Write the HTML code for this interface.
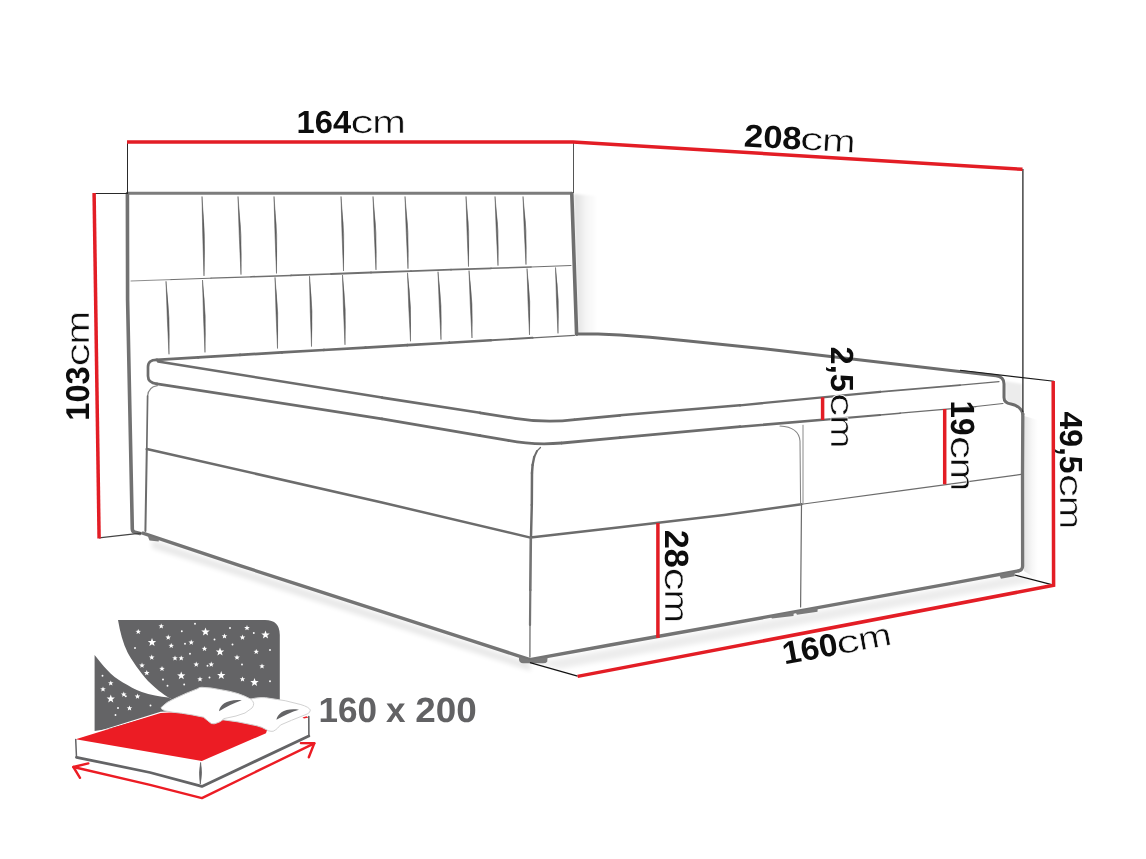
<!DOCTYPE html>
<html><head><meta charset="utf-8"><title>Bed dimensions</title>
<style>
html,body{margin:0;padding:0;background:#fff;}
body{width:1146px;height:859px;overflow:hidden;font-family:"Liberation Sans",sans-serif;}
svg{display:block;position:absolute;left:0;top:0;}
</style></head><body>
<svg width="1146" height="859" viewBox="0 0 1146 859">
<defs>
<linearGradient id="shR" x1="0" y1="0" x2="1" y2="0"><stop offset="0" stop-color="#000" stop-opacity="0.13"/><stop offset="0.5" stop-color="#000" stop-opacity="0.04"/><stop offset="1" stop-color="#000" stop-opacity="0"/></linearGradient>
<linearGradient id="shR2" x1="0" y1="0" x2="1" y2="0"><stop offset="0" stop-color="#000" stop-opacity="0.11"/><stop offset="0.6" stop-color="#000" stop-opacity="0.03"/><stop offset="1" stop-color="#000" stop-opacity="0"/></linearGradient>
<filter id="blur2" x="-10%" y="-50%" width="120%" height="200%"><feGaussianBlur stdDeviation="2.5"/></filter>
<filter id="blur1"><feGaussianBlur stdDeviation="1.2"/></filter>
</defs>
<polygon points="574,194 596,196 598,335 578,333" fill="url(#shR)" filter="url(#blur1)"/>
<path d="M152,540 L530,663 L531,671 L152,548 Z" fill="#000" opacity="0.09" filter="url(#blur2)"/>
<path d="M533,663 L1016,575 L1034,580 L1034,582 L560,669 Z" fill="#000" opacity="0.07" filter="url(#blur2)"/>
<polygon points="1024,416 1038,420 1038,580 1024,571" fill="url(#shR2)"/>
<path d="M1005,381 L1022,384 L1022,410 Q1016,405 1006,402 Z" fill="#000" opacity="0.07" filter="url(#blur1)"/>
<g fill="none" stroke-linecap="round" stroke-linejoin="round">
<path d="M128,193.2 L571.5,193.2" stroke="#7c7c7c" stroke-width="3"/>
<path d="M127.4,193.5 L127.6,300 L132.3,529 Q132.4,531.8 135,532.3 L140,533.4" stroke="#727272" stroke-width="3.6"/>
<path d="M571.8,193.5 L576.6,334.3" stroke="#6e6e6e" stroke-width="3.6"/>
</g>
<path d="M131.0,281.0 L171.0,279.6" stroke="#707070" stroke-width="0.80" fill="none" stroke-linecap="round"/>
<path d="M171.0,279.6 L211.0,278.2" stroke="#707070" stroke-width="1.00" fill="none" stroke-linecap="round"/>
<path d="M211.0,278.2 L251.0,276.8" stroke="#707070" stroke-width="1.25" fill="none" stroke-linecap="round"/>
<path d="M251.0,276.8 L291.0,275.4" stroke="#707070" stroke-width="1.55" fill="none" stroke-linecap="round"/>
<path d="M291.0,275.4 L331.0,274.0" stroke="#707070" stroke-width="1.75" fill="none" stroke-linecap="round"/>
<path d="M331.0,274.0 L371.0,272.5" stroke="#707070" stroke-width="1.80" fill="none" stroke-linecap="round"/>
<path d="M371.0,272.5 L411.0,271.1" stroke="#707070" stroke-width="1.80" fill="none" stroke-linecap="round"/>
<path d="M411.0,271.1 L451.0,269.7" stroke="#707070" stroke-width="1.80" fill="none" stroke-linecap="round"/>
<path d="M451.0,269.7 L491.0,268.3" stroke="#707070" stroke-width="1.75" fill="none" stroke-linecap="round"/>
<path d="M491.0,268.3 L531.0,266.9" stroke="#707070" stroke-width="1.50" fill="none" stroke-linecap="round"/>
<path d="M531.0,266.9 L571.0,265.5" stroke="#707070" stroke-width="1.05" fill="none" stroke-linecap="round"/>
<g fill="#5e5e5e" stroke="#5e5e5e" stroke-width="0.55" stroke-linejoin="round">
<path d="M202,196.5 Q205.9,236.2 204,275.9 Q202.5,236.2 202,196.5 Z"/>
<path d="M238,196.5 Q242.4,235.6 241,274.6 Q239.0,235.6 238,196.5 Z"/>
<path d="M274,196.5 Q278.1,234.9 276.5,273.4 Q274.8,234.9 274,196.5 Z"/>
<path d="M341,196.5 Q345.1,233.8 343.5,271.0 Q341.8,233.8 341,196.5 Z"/>
<path d="M373,196.5 Q377.4,233.2 376,269.9 Q374.0,233.2 373,196.5 Z"/>
<path d="M405,196.5 Q409.4,232.6 408,268.7 Q406.0,232.6 405,196.5 Z"/>
<path d="M466,196.5 Q470.1,231.6 468.5,266.6 Q466.8,231.6 466,196.5 Z"/>
<path d="M495,196.5 Q499.4,231.0 498,265.6 Q496.0,231.0 495,196.5 Z"/>
<path d="M523,196.5 Q527.4,230.5 526,264.6 Q524.0,230.5 523,196.5 Z"/>
<path d="M166,281.3 Q170.4,317.8 169,354.3 Q167.0,317.8 166,281.3 Z"/>
<path d="M202.5,280.0 Q206.6,316.2 205,352.4 Q203.2,316.2 202.5,280.0 Z"/>
<path d="M275,277.4 Q279.1,312.9 277.5,348.5 Q275.8,312.9 275,277.4 Z"/>
<path d="M309.5,276.2 Q313.4,311.4 311.5,346.6 Q310.0,311.4 309.5,276.2 Z"/>
<path d="M342.5,275.0 Q346.6,309.9 345,344.8 Q343.2,309.9 342.5,275.0 Z"/>
<path d="M407.5,272.8 Q411.9,307.0 410.5,341.3 Q408.5,307.0 407.5,272.8 Z"/>
<path d="M438,271.7 Q442.4,305.7 441,339.7 Q439.0,305.7 438,271.7 Z"/>
<path d="M469,270.6 Q473.4,304.3 472,338.0 Q470.0,304.3 469,270.6 Z"/>
<path d="M527,268.6 Q531.2,301.7 529.5,334.9 Q527.8,301.7 527,268.6 Z"/>
<path d="M555.5,267.5 Q559.7,300.5 558,333.4 Q556.2,300.5 555.5,267.5 Z"/>
</g>
<g fill="none" stroke="#6c6c6c" stroke-width="3" stroke-linecap="round" stroke-linejoin="round">
<path d="M576.6,333.9 L598,334.1 L620,334.9 L650,337.3 L686,340.8 L764,348.8 L880,362.2 L996,375.8 Q1004,376.8 1004,384 L1004,397.5 Q1004,403 1011,404 Q1021,406 1022.8,414"/>
<path d="M1022.8,414 L1022.5,474.5 L1022.6,566 Q1022.6,570 1018.5,570.9" stroke="#747474" stroke-width="3.3"/>
<path d="M157,359.8 Q148,359.5 148,367 L148,376 Q148,383 157,383.8" stroke-width="2.7"/>
</g>
<path d="M156.5,359.8 L198.3,357.4" stroke="#6c6c6c" stroke-width="2.80" fill="none" stroke-linecap="round"/>
<path d="M198.3,357.4 L240.1,354.9" stroke="#6c6c6c" stroke-width="2.80" fill="none" stroke-linecap="round"/>
<path d="M240.1,354.9 L281.9,352.4" stroke="#6c6c6c" stroke-width="2.80" fill="none" stroke-linecap="round"/>
<path d="M281.9,352.4 L323.7,350.0" stroke="#6c6c6c" stroke-width="2.75" fill="none" stroke-linecap="round"/>
<path d="M323.7,350.0 L365.5,347.6" stroke="#6c6c6c" stroke-width="2.70" fill="none" stroke-linecap="round"/>
<path d="M365.5,347.6 L407.3,345.1" stroke="#6c6c6c" stroke-width="2.70" fill="none" stroke-linecap="round"/>
<path d="M407.3,345.1 L449.1,342.7" stroke="#6c6c6c" stroke-width="2.65" fill="none" stroke-linecap="round"/>
<path d="M449.1,342.7 L490.9,340.2" stroke="#6c6c6c" stroke-width="2.45" fill="none" stroke-linecap="round"/>
<path d="M490.9,340.2 L532.7,337.8" stroke="#6c6c6c" stroke-width="1.95" fill="none" stroke-linecap="round"/>
<path d="M532.7,337.8 L574.5,335.3" stroke="#6c6c6c" stroke-width="1.30" fill="none" stroke-linecap="round"/>
<path d="M158.0,361.5 L382.0,397.6" stroke="#6c6c6c" stroke-width="2.50" fill="none" stroke-linecap="round"/>
<path d="M382.0,397.6 L480.0,412.8" stroke="#6c6c6c" stroke-width="2.65" fill="none" stroke-linecap="round"/>
<path d="M480.0,412.8 L515.0,418.3" stroke="#6c6c6c" stroke-width="2.70" fill="none" stroke-linecap="round"/>
<path d="M515,418.3 Q545,423.2 575,419.6" stroke="#6c6c6c" stroke-width="2.7" fill="none"/>
<path d="M575.0,419.6 L620.0,415.3" stroke="#6c6c6c" stroke-width="2.70" fill="none" stroke-linecap="round"/>
<path d="M620.0,415.3 L740.0,405.3" stroke="#6c6c6c" stroke-width="2.60" fill="none" stroke-linecap="round"/>
<path d="M740.0,405.3 L880.0,391.8" stroke="#6c6c6c" stroke-width="2.35" fill="none" stroke-linecap="round"/>
<path d="M880.0,391.8 L960.0,385.2" stroke="#6c6c6c" stroke-width="1.85" fill="none" stroke-linecap="round"/>
<path d="M960.0,385.2 L999.0,381.6" stroke="#6c6c6c" stroke-width="1.20" fill="none" stroke-linecap="round"/>
<path d="M157.0,383.8 L382.0,418.8" stroke="#6c6c6c" stroke-width="2.75" fill="none" stroke-linecap="round"/>
<path d="M382.0,418.8 L480.0,435.7" stroke="#6c6c6c" stroke-width="2.80" fill="none" stroke-linecap="round"/>
<path d="M480.0,435.7 L508.0,440.4" stroke="#6c6c6c" stroke-width="2.80" fill="none" stroke-linecap="round"/>
<path d="M508,440.4 Q534,445.4 562,443" stroke="#6c6c6c" stroke-width="2.8" fill="none"/>
<path d="M562.0,443.0 L620.0,437.7" stroke="#6c6c6c" stroke-width="2.80" fill="none" stroke-linecap="round"/>
<path d="M620.0,437.7 L740.0,426.7" stroke="#6c6c6c" stroke-width="2.70" fill="none" stroke-linecap="round"/>
<path d="M740.0,426.7 L823.0,419.8" stroke="#6c6c6c" stroke-width="2.50" fill="none" stroke-linecap="round"/>
<path d="M823.0,419.8 L880.0,415.0" stroke="#6c6c6c" stroke-width="2.20" fill="none" stroke-linecap="round"/>
<path d="M880.0,415.0 L900.0,413.2" stroke="#6c6c6c" stroke-width="1.65" fill="none" stroke-linecap="round"/>
<path d="M900.0,413.2 L976.0,406.6" stroke="#6c6c6c" stroke-width="1.20" fill="none" stroke-linecap="round"/>
<path d="M976.0,406.6 L1003.0,403.6" stroke="#6c6c6c" stroke-width="1.05" fill="none" stroke-linecap="round"/>
<g fill="none" stroke="#6c6c6c" stroke-linecap="round" stroke-linejoin="round">
<path d="M157.4,385.6 Q148.2,387 147.6,396" stroke-width="1.2" stroke="#888"/>
<path d="M147.6,396 L146.8,449" stroke-width="1.7"/>
<path d="M146.8,449 L382,502.5 L530.5,537.6 L620,527.2 L724,515 L801.5,504.2" stroke-width="2.5"/>
<path d="M801.5,504.2 L900,490.9 L1021,474.4" stroke-width="1.15"/>
<path d="M146.8,449 L145.4,531" stroke-width="2"/>
</g>
<g fill="none" stroke="#747474" stroke-width="3.4" stroke-linecap="round" stroke-linejoin="round">
<path d="M142.8,533.2 L240,565.6 L300,585.2 L470,640.1 L530,659.6"/>
<path d="M530,659.6 L610,645 L764,617.4 L950,583.6 L1018.5,570.9"/>
</g>
<path d="M540.5,447.5 L537.0,451.0" stroke="#6c6c6c" stroke-width="1.20" fill="none" stroke-linecap="round"/>
<path d="M537.0,451.0 L534.2,457.0" stroke="#6c6c6c" stroke-width="1.90" fill="none" stroke-linecap="round"/>
<path d="M534.2,457.0 L532.6,465.0" stroke="#6c6c6c" stroke-width="2.35" fill="none" stroke-linecap="round"/>
<path d="M532.6,465.0 L532.0,473.0" stroke="#6c6c6c" stroke-width="2.50" fill="none" stroke-linecap="round"/>
<path d="M532.0,473.0 L531.8,505.0" stroke="#6c6c6c" stroke-width="2.50" fill="none" stroke-linecap="round"/>
<path d="M531.8,505.0 L531.0,537.0" stroke="#6c6c6c" stroke-width="2.45" fill="none" stroke-linecap="round"/>
<path d="M530.8,538.0 L530.3,590.0" stroke="#747474" stroke-width="2.60" fill="none" stroke-linecap="round"/>
<path d="M530.3,590.0 L530.0,625.0" stroke="#747474" stroke-width="2.20" fill="none" stroke-linecap="round"/>
<path d="M530.0,625.0 L529.9,657.0" stroke="#747474" stroke-width="1.35" fill="none" stroke-linecap="round"/>
<g fill="none" stroke-linecap="round" stroke-linejoin="round">
<path d="M803,425.2 L803,504" stroke="#8a8a8a" stroke-width="1"/>
<path d="M780,426 Q798.8,427 800,441 L800.6,504" stroke="#858585" stroke-width="1.05"/>
<path d="M801.5,504.5 L800.6,607" stroke="#6a6a6a" stroke-width="1.2"/>
</g>
<g fill="#7a7a7a">
<path d="M147.5,535.5 L159,539.3 L158.7,541.4 L149.5,540.4 Z"/>
<path d="M519,656.6 L530,660 L547.6,657 L547.2,661.8 Q546,663.3 543,663.3 L523,663.3 Q519.5,663 519,660 Z"/>
<path d="M770,616 L793.8,611.8 L793.5,616 L772,618.6 Z"/>
<path d="M795,611.5 L817.7,607.5 L817.5,611.8 L797,614.7 Z"/>
<path d="M999,574.6 L1014.8,571.6 L1014.6,576.3 L1001,578.7 Z"/>
</g>
<g fill="none" stroke="#2a2a2a" stroke-width="1">
<path d="M127.5,142 L127.5,193"/>
<path d="M93,193.5 L128,193.5"/>
<path d="M573.5,142 L573.5,193" stroke="#555"/>
<path d="M1022.9,169 L1022.9,412" stroke="#1f1f1f" stroke-width="1.25"/>
<path d="M960,370.3 L1054,381.3" stroke="#1a1a1a" stroke-width="1.1"/>
<path d="M99,537.8 L141,533.2" stroke="#444" stroke-width="1.3"/>
<path d="M530,662.7 L577.6,676.2" stroke="#111" stroke-width="1.2"/>
<path d="M1014.8,575 L1052.7,584.8" stroke="#111" stroke-width="1.2"/>
</g>
<g fill="none" stroke="#e31d25" stroke-width="3.5" stroke-linecap="butt" stroke-linejoin="miter">
<path d="M127,142 L573,142 L1022.5,169.3"/>
<path d="M94.1,193 L99.1,538.5"/>
<path d="M1053.2,381 L1053.6,585.3 L577.6,676.4"/>
<path d="M657.9,523 L657.9,638"/>
<path d="M944.7,409 L944.7,484.3"/>
<path d="M822.6,397.3 L822.6,420"/>
</g>
<g transform="translate(297.8,133.1) rotate(0)" fill="#0d0d0d" font-family="Liberation Sans, sans-serif" text-rendering="geometricPrecision" opacity="0.995"><text x="-1.2" y="0" font-size="32.0" font-weight="700" textLength="54.6" lengthAdjust="spacingAndGlyphs">164</text><g stroke="#fff" stroke-width="0.55" font-size="32.0"><text x="52.4" y="0" textLength="23.2" lengthAdjust="spacingAndGlyphs">c</text><text x="74.4" y="0" textLength="33.6" lengthAdjust="spacingAndGlyphs">m</text></g></g>
<g transform="translate(744.7,146.5) rotate(3.2)" fill="#0d0d0d" font-family="Liberation Sans, sans-serif" text-rendering="geometricPrecision" opacity="0.995"><text x="-1.2" y="0" font-size="32.0" font-weight="700" textLength="57.6" lengthAdjust="spacingAndGlyphs">208</text><g stroke="#fff" stroke-width="0.55" font-size="32.0"><text x="54.8" y="0" textLength="23.2" lengthAdjust="spacingAndGlyphs">c</text><text x="76.8" y="0" textLength="33.6" lengthAdjust="spacingAndGlyphs">m</text></g></g>
<g transform="translate(88.9,419.5) rotate(-90)" fill="#0d0d0d" font-family="Liberation Sans, sans-serif" text-rendering="geometricPrecision" opacity="0.995"><text x="-1.2" y="0" font-size="33.0" font-weight="700" textLength="54.3" lengthAdjust="spacingAndGlyphs">103</text><g stroke="#fff" stroke-width="0.55" font-size="33.0"><text x="53.1" y="0" textLength="23.2" lengthAdjust="spacingAndGlyphs">c</text><text x="75.1" y="0" textLength="33.6" lengthAdjust="spacingAndGlyphs">m</text></g></g>
<g transform="translate(830.7,347.8) rotate(90)" fill="#0d0d0d" font-family="Liberation Sans, sans-serif" text-rendering="geometricPrecision" opacity="0.995"><text x="-1.2" y="0" font-size="32.0" font-weight="700" textLength="45.4" lengthAdjust="spacingAndGlyphs">2,5</text><g stroke="#fff" stroke-width="0.55" font-size="32.0"><text x="45.1" y="0" textLength="23.2" lengthAdjust="spacingAndGlyphs">c</text><text x="67.1" y="0" textLength="33.6" lengthAdjust="spacingAndGlyphs">m</text></g></g>
<g transform="translate(951.3,401.6) rotate(90)" fill="#0d0d0d" font-family="Liberation Sans, sans-serif" text-rendering="geometricPrecision" opacity="0.995"><text x="-1.2" y="0" font-size="33.6" font-weight="700" textLength="35.0" lengthAdjust="spacingAndGlyphs">19</text><g stroke="#fff" stroke-width="0.55" font-size="33.6"><text x="34.1" y="0" textLength="23.2" lengthAdjust="spacingAndGlyphs">c</text><text x="56.1" y="0" textLength="33.6" lengthAdjust="spacingAndGlyphs">m</text></g></g>
<g transform="translate(664.6,530.9) rotate(90)" fill="#0d0d0d" font-family="Liberation Sans, sans-serif" text-rendering="geometricPrecision" opacity="0.995"><text x="-1.2" y="0" font-size="33.6" font-weight="700" textLength="38.0" lengthAdjust="spacingAndGlyphs">28</text><g stroke="#fff" stroke-width="0.55" font-size="33.6"><text x="36.5" y="0" textLength="23.2" lengthAdjust="spacingAndGlyphs">c</text><text x="58.5" y="0" textLength="33.6" lengthAdjust="spacingAndGlyphs">m</text></g></g>
<g transform="translate(1060.2,412.7) rotate(90)" fill="#0d0d0d" font-family="Liberation Sans, sans-serif" text-rendering="geometricPrecision" opacity="0.995"><text x="-1.2" y="0" font-size="32.0" font-weight="700" textLength="62.1" lengthAdjust="spacingAndGlyphs">49,5</text><g stroke="#fff" stroke-width="0.55" font-size="32.0"><text x="61.1" y="0" textLength="23.2" lengthAdjust="spacingAndGlyphs">c</text><text x="83.1" y="0" textLength="33.6" lengthAdjust="spacingAndGlyphs">m</text></g></g>
<g transform="translate(785.6,664.4) rotate(-10.5)" fill="#0d0d0d" font-family="Liberation Sans, sans-serif" text-rendering="geometricPrecision" opacity="0.995"><text x="-1.2" y="0" font-size="32.0" font-weight="700" textLength="55.6" lengthAdjust="spacingAndGlyphs">160</text><g stroke="#fff" stroke-width="0.55" font-size="32.0"><text x="53.6" y="0" textLength="23.2" lengthAdjust="spacingAndGlyphs">c</text><text x="75.6" y="0" textLength="33.6" lengthAdjust="spacingAndGlyphs">m</text></g></g>
<g fill="#626264" font-family="Liberation Sans, sans-serif" font-size="35" font-weight="700" opacity="0.995" text-rendering="geometricPrecision"><text x="318.4" y="722" textLength="58.5" lengthAdjust="spacingAndGlyphs">160</text><text x="386" y="722" textLength="19.5" lengthAdjust="spacingAndGlyphs">x</text><text x="415.3" y="722" textLength="61.5" lengthAdjust="spacingAndGlyphs">200</text></g>
<g>
<path d="M118,620 L265,620 Q279.8,620 279.8,635 L279.8,715 L200,715 L168.5,697.4 C164,695 154,687 148,680.9 C140,672.5 131,659 127.6,652.6 C123,643 120,632 118,620 Z" fill="#646466"/>
<path d="M94.6,654.9 C98,659 103,665.5 107.2,669.9 C112,675 117,679 122.9,682.5 C129,686 135,689.6 141.8,691.9 C150,694.6 160,696.6 168.5,697.4 L200,715 L94.6,731 Z" fill="#646466"/>
<g fill="#fff">
<polygon points="152.0,638.1 153.1,641.0 156.2,641.1 153.8,643.1 154.6,646.1 152.0,644.3 149.4,646.1 150.2,643.1 147.8,641.1 150.9,641.0"/>
<polygon points="205.5,627.6 206.6,630.5 209.7,630.6 207.3,632.6 208.1,635.6 205.5,633.8 202.9,635.6 203.7,632.6 201.3,630.6 204.4,630.5"/>
<polygon points="265.5,630.6 266.6,633.5 269.7,633.6 267.3,635.6 268.1,638.6 265.5,636.8 262.9,638.6 263.7,635.6 261.3,633.6 264.4,633.5"/>
<polygon points="220.0,647.6 221.1,650.5 224.2,650.6 221.8,652.6 222.6,655.6 220.0,653.8 217.4,655.6 218.2,652.6 215.8,650.6 218.9,650.5"/>
<polygon points="181.2,671.4 182.3,674.3 185.4,674.4 183.0,676.3 183.8,679.3 181.2,677.6 178.7,679.3 179.5,676.3 177.1,674.4 180.2,674.3"/>
<polygon points="221.2,671.1 222.3,674.0 225.4,674.1 223.0,676.1 223.8,679.1 221.2,677.3 218.7,679.1 219.5,676.1 217.1,674.1 220.2,674.0"/>
<polygon points="254.5,678.1 255.6,681.0 258.7,681.1 256.3,683.1 257.1,686.1 254.5,684.3 251.9,686.1 252.7,683.1 250.3,681.1 253.4,681.0"/>
<polygon points="110.8,694.6 111.8,697.5 114.9,697.6 112.5,699.6 113.3,702.6 110.8,700.8 108.2,702.6 109.0,699.6 106.6,697.6 109.7,697.5"/>
<polygon points="138.2,628.9 139.0,630.8 141.0,630.9 139.4,632.1 140.0,634.1 138.2,633.0 136.5,634.1 137.1,632.1 135.5,630.9 137.5,630.8"/>
<polygon points="161.2,623.4 162.0,625.3 164.0,625.4 162.4,626.6 163.0,628.6 161.2,627.5 159.5,628.6 160.1,626.6 158.5,625.4 160.5,625.3"/>
<polygon points="168.2,634.6 169.0,636.5 171.0,636.6 169.4,637.9 170.0,639.8 168.2,638.7 166.5,639.8 167.1,637.9 165.5,636.6 167.5,636.5"/>
<polygon points="247.0,625.1 247.7,627.0 249.8,627.1 248.2,628.4 248.7,630.3 247.0,629.2 245.3,630.3 245.8,628.4 244.2,627.1 246.3,627.0"/>
<polygon points="242.5,634.6 243.2,636.5 245.3,636.6 243.7,637.9 244.2,639.8 242.5,638.7 240.8,639.8 241.3,637.9 239.7,636.6 241.8,636.5"/>
<polygon points="224.5,633.4 225.2,635.3 227.3,635.4 225.7,636.6 226.2,638.6 224.5,637.5 222.8,638.6 223.3,636.6 221.7,635.4 223.8,635.3"/>
<polygon points="204.5,645.9 205.2,647.8 207.3,647.9 205.7,649.1 206.2,651.1 204.5,650.0 202.8,651.1 203.3,649.1 201.7,647.9 203.8,647.8"/>
<polygon points="191.2,639.6 192.0,641.5 194.0,641.6 192.4,642.9 193.0,644.8 191.2,643.7 189.5,644.8 190.1,642.9 188.5,641.6 190.5,641.5"/>
<polygon points="171.2,642.9 172.0,644.8 174.0,644.9 172.4,646.1 173.0,648.1 171.2,647.0 169.5,648.1 170.1,646.1 168.5,644.9 170.5,644.8"/>
<polygon points="256.2,648.9 257.0,650.8 259.0,650.9 257.4,652.1 258.0,654.1 256.2,653.0 254.5,654.1 255.1,652.1 253.5,650.9 255.5,650.8"/>
<polygon points="237.0,654.6 237.7,656.5 239.8,656.6 238.2,657.9 238.7,659.8 237.0,658.7 235.3,659.8 235.8,657.9 234.2,656.6 236.3,656.5"/>
<polygon points="262.0,663.4 262.7,665.3 264.8,665.4 263.2,666.6 263.7,668.6 262.0,667.5 260.3,668.6 260.8,666.6 259.2,665.4 261.3,665.3"/>
<polygon points="196.2,661.6 197.0,663.5 199.0,663.6 197.4,664.9 198.0,666.8 196.2,665.7 194.5,666.8 195.1,664.9 193.5,663.6 195.5,663.5"/>
<polygon points="211.2,661.6 212.0,663.5 214.0,663.6 212.4,664.9 213.0,666.8 211.2,665.7 209.5,666.8 210.1,664.9 208.5,663.6 210.5,663.5"/>
<polygon points="175.0,655.4 175.7,657.3 177.8,657.4 176.2,658.6 176.7,660.6 175.0,659.5 173.3,660.6 173.8,658.6 172.2,657.4 174.3,657.3"/>
<polygon points="181.2,655.4 182.0,657.3 184.0,657.4 182.4,658.6 183.0,660.6 181.2,659.5 179.5,660.6 180.1,658.6 178.5,657.4 180.5,657.3"/>
<polygon points="151.8,654.6 152.5,656.5 154.5,656.6 152.9,657.9 153.5,659.8 151.8,658.7 150.0,659.8 150.6,657.9 149.0,656.6 151.0,656.5"/>
<polygon points="142.0,662.6 142.7,664.5 144.8,664.6 143.2,665.9 143.7,667.8 142.0,666.7 140.3,667.8 140.8,665.9 139.2,664.6 141.3,664.5"/>
<polygon points="146.8,670.1 147.5,672.0 149.5,672.1 147.9,673.4 148.5,675.3 146.8,674.2 145.0,675.3 145.6,673.4 144.0,672.1 146.0,672.0"/>
<polygon points="162.0,665.9 162.7,667.8 164.8,667.9 163.2,669.1 163.7,671.1 162.0,670.0 160.3,671.1 160.8,669.1 159.2,667.9 161.3,667.8"/>
<polygon points="200.0,676.4 200.7,678.3 202.8,678.4 201.2,679.6 201.7,681.6 200.0,680.5 198.3,681.6 198.8,679.6 197.2,678.4 199.3,678.3"/>
<polygon points="242.5,676.4 243.2,678.3 245.3,678.4 243.7,679.6 244.2,681.6 242.5,680.5 240.8,681.6 241.3,679.6 239.7,678.4 241.8,678.3"/>
<polygon points="110.8,680.4 111.5,682.3 113.5,682.4 111.9,683.6 112.5,685.6 110.8,684.5 109.0,685.6 109.6,683.6 108.0,682.4 110.0,682.3"/>
<polygon points="103.0,686.4 103.7,688.3 105.8,688.4 104.2,689.6 104.7,691.6 103.0,690.5 101.3,691.6 101.8,689.6 100.2,688.4 102.3,688.3"/>
<polygon points="137.5,693.6 138.2,695.5 140.3,695.6 138.7,696.9 139.2,698.8 137.5,697.7 135.8,698.8 136.3,696.9 134.7,695.6 136.8,695.5"/>
<polygon points="129.5,705.4 130.2,707.3 132.3,707.4 130.7,708.6 131.2,710.6 129.5,709.5 127.8,710.6 128.3,708.6 126.7,707.4 128.8,707.3"/>
<polygon points="123.8,691.6 124.5,693.5 126.5,693.6 124.9,694.9 125.5,696.8 123.8,695.7 122.0,696.8 122.6,694.9 121.0,693.6 123.0,693.5"/>
<circle cx="195.0" cy="623.8" r="0.95"/>
<circle cx="181.8" cy="631.2" r="0.95"/>
<circle cx="230.0" cy="628.0" r="0.95"/>
<circle cx="253.8" cy="633.0" r="0.95"/>
<circle cx="214.5" cy="639.5" r="0.95"/>
<circle cx="232.5" cy="644.5" r="0.95"/>
<circle cx="185.0" cy="643.8" r="0.95"/>
<circle cx="135.0" cy="648.0" r="0.95"/>
<circle cx="270.0" cy="650.0" r="0.95"/>
<circle cx="242.0" cy="664.5" r="0.95"/>
<circle cx="207.5" cy="665.8" r="0.95"/>
<circle cx="270.0" cy="681.2" r="0.95"/>
<circle cx="163.0" cy="679.5" r="0.95"/>
<circle cx="167.5" cy="685.8" r="0.95"/>
<circle cx="184.2" cy="684.5" r="0.95"/>
<circle cx="209.5" cy="677.5" r="0.95"/>
<circle cx="190.0" cy="653.8" r="0.95"/>
<circle cx="102.5" cy="675.8" r="0.95"/>
<circle cx="125.8" cy="696.2" r="0.95"/>
<circle cx="115.5" cy="715.0" r="0.95"/>
<circle cx="150.5" cy="705.5" r="0.95"/>
<circle cx="118.0" cy="708.0" r="0.95"/>
<circle cx="135.0" cy="687.5" r="0.95"/>
</g>
<path d="M75.7,739 L201.7,761 L308.8,715.6 L309.3,736 L201.9,786.4 L76.5,757.3 Z" fill="#fff"/>
<path d="M75.7,738.2 L160.6,711.8 L240,708 L240,714 L160,714 Z" fill="#fff"/>
<path d="M75.7,739.2 L160.6,713.1 L240,709 L268,727 L266,733.2 L201.8,761 Z" fill="#ec1c24"/>
<path d="M302.5,717.6 L306.5,716.3 L308.6,717.5 L304,718.6 Z" fill="#ec1c24"/>
<g fill="none" stroke="#646466" stroke-linecap="round" stroke-linejoin="round">
<path d="M75.7,739.5 L76.5,757.3" stroke-width="1.5"/>
<path d="M76.5,757.3 L150,772.5 L201.9,786.4 L308.8,736" stroke-width="2.8"/>
<path d="M308.8,716.5 L308.9,736" stroke-width="1.6"/>
</g>
<path d="M200.6,762.5 Q198.6,773 200.3,784 Q202.6,773 200.6,762.5 Z" fill="#646466" stroke="#646466" stroke-width="0.8"/>
<g fill="#fff" stroke="#d2d2d2" stroke-width="1" stroke-linejoin="round">
<path d="M220.8,719.5 Q230,702 250.6,699 Q262,696.5 269.5,698.3 L285.2,700.7 L300.9,704.6 Q309,707 310.4,710.1 Q310,713 307.2,714 L291.5,720.3 L280.5,725 Q277,729 275.8,729.7 Q273,732 271,731.3 Q268,731 266.4,729.7 Q262,727 256.9,725.8 L238,721.9 Z"/>
<path d="M161,707.7 Q166,702 175.2,698.3 Q186,693 197.2,688.9 Q199.5,687 201.9,687.3 Q211,687.5 220.8,689.7 Q230,691 238,693.6 Q245,696 250.6,699 Q256,703 252,708 Q246,714 236,716 L224,718.6 Q220,722.5 217.6,722.7 Q214,724.5 211.3,723.5 Q208,721 203.5,717.2 Q192,714.6 181.4,713.2 Q172,712.4 165.7,710.9 Q161,709.5 161,707.7 Z"/>
</g>
<path d="M219,711.2 C219.8,704.5 228,698.8 241.8,700.3 C234,703 226.5,706.8 219,711.2 Z" fill="#646466"/>
<path d="M276.4,719.8 C277.5,713 286,707.6 299,709.8 C291.5,712 284,715.4 276.4,719.8 Z" fill="#646466"/>
<g fill="none" stroke="#ec1c24" stroke-width="2.4" stroke-linecap="round" stroke-linejoin="round">
<path d="M73.4,767 L150,784.8 L201.9,798.1 L314.3,743.3"/>
<path d="M88.3,763.4 L73.4,767 L80,777.8"/>
<path d="M300.9,743.1 L314.3,743.3 L308.8,757.3"/>
</g>
</g>
</svg>
</body></html>
